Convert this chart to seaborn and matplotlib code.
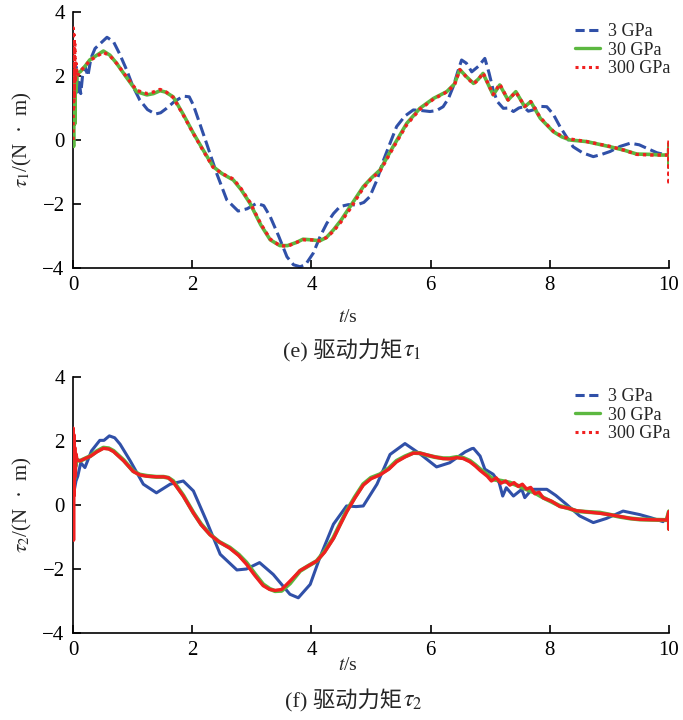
import numpy as np
import pandas as pd
import matplotlib
matplotlib.use("Agg")
import matplotlib.pyplot as plt
from matplotlib.lines import Line2D
import seaborn as sns

# ---------------- data ----------------
series_names = ["3 GPa", "30 GPa", "300 GPa"]
x_ticks = [0, 2, 4, 6, 8, 10]
y_ticks = [-4, -2, 0, 2, 4]

# tau1, 3 GPa
t1_3 = [0.02, 0.05, 0.08, 0.1, 0.13, 0.16, 0.2, 0.25, 0.3, 0.37, 0.45, 0.57, 0.68, 0.78, 0.9, 1.0,
        1.12, 1.25, 1.38, 1.47, 1.57, 1.7, 1.85, 1.95, 2.02, 2.12, 2.24, 2.41, 2.58, 2.77, 2.92, 3.08,
        3.2, 3.31, 3.45, 3.59, 3.7, 3.81, 3.9, 4.03, 4.15, 4.26, 4.37, 4.48, 4.62, 4.76, 4.88, 4.98,
        5.1, 5.21, 5.32, 5.43, 5.57, 5.71, 5.85, 5.99, 6.1, 6.21, 6.3, 6.38, 6.45, 6.52, 6.6, 6.69,
        6.8, 6.91, 6.98, 7.05, 7.12, 7.22, 7.3, 7.39, 7.48, 7.56, 7.64, 7.72, 7.85, 7.95, 8.06, 8.17,
        8.28, 8.39, 8.55, 8.73, 8.87, 9.01, 9.18, 9.35, 9.5, 9.63, 9.8, 9.96]
v1_3 = [2.0, 2.3, 1.5, 1.9, 1.45, 2.0, 2.3, 2.0, 2.55, 2.86, 3.0, 3.21, 3.07, 2.7, 2.19, 1.7,
        1.25, 0.95, 0.81, 0.85, 0.99, 1.2, 1.37, 1.35, 1.09, 0.55, -0.1, -1.04, -1.87, -2.22, -2.15, -1.98,
        -2.05, -2.4, -3.0, -3.65, -3.9, -3.96, -3.9, -3.54, -3.0, -2.6, -2.3, -2.08, -2.02, -2.03, -1.95, -1.77,
        -1.25, -0.63, -0.1, 0.42, 0.75, 0.94, 0.92, 0.89, 0.92, 1.04, 1.3, 1.67, 2.1, 2.5, 2.4, 2.13,
        2.3, 2.55, 2.1, 1.56, 1.2, 0.99, 1.0, 0.89, 1.0, 1.04, 0.9, 0.94, 1.05, 1.04, 0.8, 0.42,
        0.1, -0.21, -0.4, -0.52, -0.45, -0.36, -0.2, -0.1, -0.15, -0.26, -0.4, -0.47]

# tau1, 30 GPa
t1_30 = [0.0, 0.01, 0.02, 0.03, 0.04, 0.05, 0.07, 0.12, 0.2, 0.28, 0.4, 0.51, 0.62, 0.73, 0.9, 1.07,
         1.24, 1.35, 1.46, 1.55, 1.68, 1.85, 2.02, 2.18, 2.35, 2.5, 2.69, 2.82, 2.97, 3.15, 3.31, 3.47,
         3.6, 3.75, 3.86, 4.0, 4.14, 4.25, 4.37, 4.5, 4.65, 4.87, 5.0, 5.15, 5.37, 5.6, 5.82, 6.05,
         6.27, 6.4, 6.49, 6.6, 6.72, 6.8, 6.88, 7.05, 7.16, 7.3, 7.43, 7.58, 7.68, 7.84, 8.06, 8.2,
         8.34, 8.62, 9.01, 9.25, 9.46, 9.7, 9.85, 9.99, 10.0, 10.0, 10.0]
v1_30 = [0.9, -0.2, 2.0, 0.5, 2.2, 1.5, 2.1, 2.13, 2.3, 2.5, 2.65, 2.78, 2.65, 2.4, 1.95, 1.51,
         1.41, 1.45, 1.54, 1.5, 1.35, 0.8, 0.21, -0.3, -0.83, -1.05, -1.25, -1.55, -1.98, -2.65, -3.12, -3.3,
         -3.3, -3.2, -3.1, -3.12, -3.15, -3.05, -2.81, -2.5, -2.08, -1.46, -1.2, -0.94, -0.21, 0.52, 0.99, 1.3,
         1.51, 1.75, 2.2, 1.98, 1.77, 1.9, 2.08, 1.41, 1.72, 1.25, 1.51, 1.04, 1.2, 0.68, 0.26, 0.1,
         0.0, -0.05, -0.21, -0.32, -0.44, -0.45, -0.47, -0.47, -0.1, -0.85, -0.45]

# tau1, 300 GPa
t1_300 = [0.0, 0.005, 0.01, 0.015, 0.02, 0.03, 0.04, 0.05, 0.07, 0.12, 0.2, 0.28, 0.4, 0.51, 0.62, 0.73,
          0.9, 1.07, 1.24, 1.35, 1.46, 1.55, 1.68, 1.85, 2.02, 2.18, 2.35, 2.5, 2.69, 2.82, 2.97, 3.15,
          3.31, 3.47, 3.6, 3.75, 3.86, 4.0, 4.14, 4.25, 4.37, 4.5, 4.65, 4.87, 5.0, 5.15, 5.37, 5.6,
          5.82, 6.05, 6.27, 6.4, 6.49, 6.6, 6.72, 6.8, 6.88, 7.05, 7.16, 7.3, 7.43, 7.58, 7.68, 7.84,
          8.06, 8.2, 8.34, 8.62, 9.01, 9.25, 9.46, 9.7, 9.85, 9.99, 10.0, 10.0, 10.0]
v1_300 = [0.0, 3.5, 1.0, 3.3, 1.3, 3.0, 1.8, 2.4, 2.0, 2.15, 2.3, 2.48, 2.62, 2.74, 2.63, 2.4,
          1.97, 1.55, 1.45, 1.5, 1.58, 1.52, 1.33, 0.78, 0.2, -0.32, -0.85, -1.05, -1.22, -1.52, -1.95, -2.62,
          -3.1, -3.3, -3.32, -3.2, -3.12, -3.12, -3.15, -3.05, -2.85, -2.55, -2.15, -1.5, -1.22, -0.98, -0.25, 0.48,
          0.96, 1.28, 1.5, 1.72, 2.2, 1.97, 1.75, 1.88, 2.1, 1.42, 1.75, 1.25, 1.5, 1.05, 1.2, 0.7,
          0.27, 0.12, 0.03, -0.05, -0.2, -0.32, -0.45, -0.47, -0.47, -0.47, 0.0, -1.4, -0.45]

# tau2, 3 GPa
t2_3 = [0.02, 0.05, 0.08, 0.13, 0.2, 0.31, 0.45, 0.52, 0.61, 0.7, 0.79, 0.96, 1.18, 1.4, 1.63, 1.85,
        2.02, 2.24, 2.47, 2.75, 2.91, 3.13, 3.36, 3.64, 3.78, 3.98, 4.14, 4.37, 4.59, 4.75, 4.87, 5.1,
        5.32, 5.57, 5.82, 6.1, 6.32, 6.58, 6.69, 6.72, 6.83, 6.91, 7.05, 7.15, 7.21, 7.27, 7.39, 7.53,
        7.58, 7.7, 7.95, 8.1, 8.28, 8.5, 8.73, 8.95, 9.23, 9.51, 9.7, 9.9]
v2_3 = [0.45, 0.75, 0.9, 1.32, 1.17, 1.69, 2.02, 2.02, 2.16, 2.1, 1.9, 1.38, 0.65, 0.38, 0.65, 0.75,
        0.44, -0.5, -1.54, -2.03, -2.0, -1.8, -2.17, -2.79, -2.9, -2.48, -1.65, -0.6, -0.03, -0.05, -0.03, 0.65,
        1.58, 1.92, 1.6, 1.19, 1.32, 1.66, 1.76, 1.77, 1.53, 1.12, 0.96, 0.7, 0.28, 0.54, 0.28, 0.49,
        0.23, 0.49, 0.49, 0.3, 0.02, -0.34, -0.55, -0.42, -0.19, -0.3, -0.4, -0.52]

# tau2, 30 GPa
t2_30 = [0.0, 0.01, 0.02, 0.03, 0.04, 0.05, 0.07, 0.12, 0.2, 0.29, 0.4, 0.51, 0.6, 0.68, 0.85, 1.01,
         1.12, 1.24, 1.4, 1.52, 1.6, 1.68, 1.85, 2.02, 2.15, 2.3, 2.45, 2.63, 2.78, 2.91, 3.05, 3.19,
         3.3, 3.39, 3.5, 3.64, 3.81, 3.95, 4.09, 4.22, 4.37, 4.48, 4.59, 4.73, 4.87, 5.0, 5.15, 5.3,
         5.43, 5.57, 5.71, 5.82, 5.93, 6.07, 6.21, 6.32, 6.44, 6.55, 6.66, 6.75, 6.83, 6.95, 7.05, 7.2,
         7.33, 7.47, 7.61, 7.75, 7.89, 8.03, 8.17, 8.31, 8.45, 8.65, 8.84, 9.0, 9.18, 9.35, 9.51, 9.7,
         9.96, 10.0, 10.0]
v2_30 = [0.5, 1.6, 0.8, 1.5, 1.2, 1.45, 1.4, 1.38, 1.45, 1.53, 1.68, 1.79, 1.77, 1.69, 1.4, 1.06,
         0.95, 0.91, 0.88, 0.88, 0.85, 0.75, 0.3, -0.24, -0.6, -0.92, -1.15, -1.33, -1.55, -1.8, -2.15, -2.48,
         -2.62, -2.69, -2.68, -2.45, -2.06, -1.9, -1.75, -1.45, -1.02, -0.6, -0.19, 0.25, 0.65, 0.85, 0.96, 1.15,
         1.38, 1.52, 1.63, 1.62, 1.56, 1.5, 1.46, 1.46, 1.5, 1.47, 1.38, 1.25, 1.12, 0.95, 0.8, 0.75,
         0.7, 0.6, 0.49, 0.38, 0.23, 0.1, -0.03, -0.1, -0.19, -0.22, -0.24, -0.3, -0.37, -0.42, -0.45, -0.46,
         -0.47, -0.2, -0.75]

# tau2, 300 GPa
t2_300 = [0.0, 0.005, 0.01, 0.015, 0.02, 0.03, 0.04, 0.05, 0.07, 0.12, 0.2, 0.29, 0.4, 0.51, 0.6, 0.68,
          0.85, 1.01, 1.12, 1.24, 1.4, 1.52, 1.6, 1.68, 1.85, 2.02, 2.15, 2.3, 2.45, 2.63, 2.78, 2.91,
          3.05, 3.19, 3.3, 3.39, 3.5, 3.64, 3.81, 3.95, 4.09, 4.22, 4.37, 4.48, 4.59, 4.73, 4.87, 5.0,
          5.15, 5.3, 5.43, 5.57, 5.71, 5.82, 5.93, 6.07, 6.21, 6.32, 6.44, 6.55, 6.66, 6.75, 6.83, 6.95,
          7.02, 7.1, 7.18, 7.26, 7.33, 7.4, 7.47, 7.54, 7.61, 7.68, 7.75, 7.82, 7.89, 8.03, 8.17, 8.31,
          8.45, 8.65, 8.84, 9.0, 9.18, 9.35, 9.51, 9.7, 9.96, 10.0, 10.0, 10.0]
v2_300 = [0.0, 2.4, -1.1, 2.2, 0.3, 1.8, 0.9, 1.6, 1.4, 1.38, 1.45, 1.52, 1.66, 1.77, 1.75, 1.67,
          1.38, 1.05, 0.94, 0.9, 0.88, 0.88, 0.85, 0.72, 0.28, -0.25, -0.62, -0.93, -1.15, -1.35, -1.58, -1.85,
          -2.2, -2.52, -2.64, -2.67, -2.64, -2.38, -2.05, -1.9, -1.75, -1.48, -1.05, -0.63, -0.22, 0.22, 0.62, 0.82,
          0.94, 1.12, 1.35, 1.5, 1.62, 1.62, 1.57, 1.5, 1.45, 1.44, 1.48, 1.45, 1.35, 1.22, 1.08, 0.9,
          0.75, 0.85, 0.68, 0.75, 0.62, 0.7, 0.58, 0.65, 0.5, 0.55, 0.35, 0.4, 0.22, 0.12, -0.05, -0.1,
          -0.18, -0.22, -0.26, -0.3, -0.36, -0.42, -0.45, -0.46, -0.47, -0.2, -0.75, -0.47]

# ---------------- styling ----------------
sns.set_theme(style="ticks")
plt.rcParams["font.family"] = ["Liberation Serif", "Noto Sans CJK SC", "DejaVu Sans"]
plt.rcParams["mathtext.fontset"] = "stix"

C_BLUE = "#3050a8"
C_GREEN = "#5cb840"
C_RED = "#f02020"

fig = plt.figure(figsize=(6.83, 7.2), dpi=100)
ax1 = fig.add_axes([73 / 683, 1 - 268 / 720, 596 / 683, 256 / 720])
ax2 = fig.add_axes([73 / 683, 1 - 633 / 720, 596 / 683, 256 / 720])


def frame(t, v):
    return pd.DataFrame({"t": t, "v": v})


# top panel: dashed / solid / dotted
sns.lineplot(data=frame(t1_3, v1_3), x="t", y="v", ax=ax1, estimator=None, sort=False,
             color=C_BLUE, lw=2.2, linestyle=(0, (4, 1.6)), zorder=2)
sns.lineplot(data=frame(t1_30, v1_30), x="t", y="v", ax=ax1, estimator=None, sort=False,
             color=C_GREEN, lw=2.6, zorder=3)
sns.lineplot(data=frame(t1_300, v1_300), x="t", y="v", ax=ax1, estimator=None, sort=False,
             color=C_RED, lw=2.4, linestyle=(0, (1, 1.2)), zorder=4)

# bottom panel: solid lines
sns.lineplot(data=frame(t2_3, v2_3), x="t", y="v", ax=ax2, estimator=None, sort=False,
             color=C_BLUE, lw=2.2, zorder=2)
sns.lineplot(data=frame(t2_30, v2_30), x="t", y="v", ax=ax2, estimator=None, sort=False,
             color=C_GREEN, lw=3.0, zorder=3)
sns.lineplot(data=frame(t2_300, v2_300), x="t", y="v", ax=ax2, estimator=None, sort=False,
             color=C_RED, lw=2.4, zorder=4)

handles = [
    Line2D([], [], color=C_BLUE, lw=2.2, linestyle=(0, (3, 1.5))),
    Line2D([], [], color=C_GREEN, lw=2.4),
    Line2D([], [], color=C_RED, lw=2.2, linestyle=(0, (1, 1.2))),
]

for ax, ylab in [(ax1, r"$\tau_1$/(N  ·  m)"), (ax2, r"$\tau_2$/(N  ·  m)")]:
    ax.set_xlim(0, 10)
    ax.set_ylim(-4, 4)
    ax.set_xticks(x_ticks)
    ax.set_yticks(y_ticks)
    ax.tick_params(direction="in", length=6, width=1.2, labelsize=15, pad=6, colors="black")
    for s in ["top", "right"]:
        ax.spines[s].set_visible(False)
    for s in ["left", "bottom"]:
        ax.spines[s].set_linewidth(1.2)
        ax.spines[s].set_color("black")
    ax.set_xlabel("")
    ax.set_ylabel(ylab, fontsize=15, labelpad=6)
    ax.legend(handles, series_names, loc="upper right", bbox_to_anchor=(1.02, 1.0),
              frameon=False, fontsize=13, handlelength=1.4, handletextpad=0.4,
              labelspacing=0.1, borderaxespad=0.2)

fig.text(348 / 683, 1 - 318 / 720, "$t$/s", ha="center", va="center", fontsize=14)
fig.text(348 / 683, 1 - 665 / 720, "$t$/s", ha="center", va="center", fontsize=14)

cjk = ["Liberation Serif", "Noto Sans CJK SC"]
for ypix, label, sym in [(357, "(e) 驱动力矩", r"$\tau_1$"), (707, "(f) 驱动力矩", r"$\tau_2$")]:
    fig.text(402 / 683, 1 - ypix / 720, label, ha="right", va="baseline", fontsize=16, family=cjk)
    fig.text(403 / 683, 1 - ypix / 720, sym, ha="left", va="baseline", fontsize=17)

fig.savefig("out.png", dpi=100, facecolor="white")
